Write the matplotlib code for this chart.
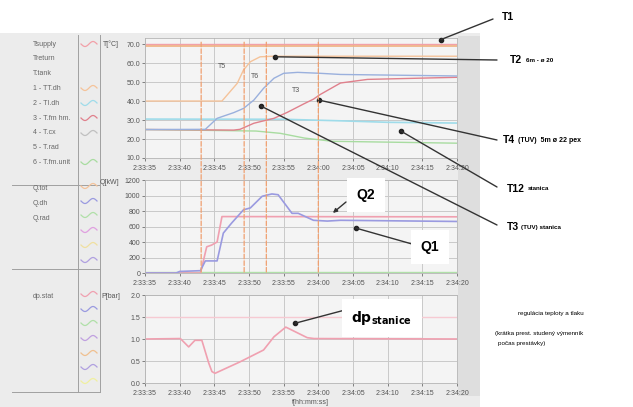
import numpy as np
import matplotlib
matplotlib.use('Agg')
import matplotlib.pyplot as plt
import matplotlib.transforms as mtransforms
from matplotlib.lines import Line2D
from matplotlib.patches import Rectangle, ConnectionPatch

plt.rcParams['font.family'] = ['Liberation Sans', 'DejaVu Sans']

W, H = 633, 407

# time axis: seconds after 2:33:35
tick_sec = [0, 5, 10, 15, 20, 25, 30, 35, 40, 45]
tick_lbl = ['2:33:35', '2:33:40', '2:33:45', '2:33:50', '2:33:55',
            '2:34:00', '2:34:05', '2:34:10', '2:34:15', '2:34:20']
switch_sec = [8.1, 14.3, 17.5, 25.0]

# top panel, T [°C]
tsup_t = [0, 45]
tsup = [70.0, 70.0]
t1_t = [0, 45]
t1 = [69.2, 69.2]
t2_t = [0, 11.1, 13.3, 14.2, 15.2, 16.6, 18.5, 45]
t2 = [40.0, 40.0, 49.3, 56.3, 60.7, 63.3, 63.6, 63.6]
t12_t = [0, 20, 28, 35, 45]
t12 = [30.5, 30.4, 29.6, 28.8, 28.4]
t3_t = [0, 8.7, 10.4, 12.8, 14.2, 15.7, 17.1, 18.6, 20.0, 22.0, 25.3, 28.2, 45]
t3 = [25.0, 25.1, 30.9, 33.9, 36.1, 40.5, 46.7, 52.0, 54.6, 55.1, 54.6, 54.0, 53.2]
t4_t = [0, 12.8, 13.7, 15.7, 18.6, 20.5, 22.9, 24.3, 25.3, 28.2, 32.1, 45]
t4 = [25.0, 24.7, 25.1, 28.3, 30.9, 34.0, 38.5, 41.0, 43.5, 49.5, 51.4, 52.5]
trad_t = [0, 16, 19.5, 23, 27, 45]
trad = [25.0, 24.2, 23.0, 20.5, 18.8, 17.8]

# middle panel, Q [kW]
q1_t = [0, 4.5, 5.0, 8.0, 8.7, 10.4, 11.3, 12.5, 14.2, 15.2, 16.9, 18.3, 19.2,
        21.2, 22.1, 24.3, 26.3, 28.2, 45]
q1 = [0, 0, 20, 30, 156, 156, 515, 645, 815, 840, 990, 1020, 1010,
      770, 770, 680, 670, 680, 665]
q2_t = [0, 8.0, 8.9, 9.6, 10.4, 11.1, 45]
q2 = [0, 0, 338, 360, 400, 728, 725]
qrad_t = [0, 45]
qrad = [10, 10]

# bottom panel, P [bar]
p_t = [0, 5.1, 6.3, 7.2, 8.2, 9.2, 9.65, 10.1, 13.7, 17.1, 18.6, 20.3, 20.7,
       23.4, 24.4, 45]
p = [1.0, 1.01, 0.82, 0.97, 0.97, 0.45, 0.26, 0.22, 0.48, 0.75, 1.05, 1.27, 1.24,
     1.03, 1.01, 1.0]
pset_t = [0, 45]
pset = [1.5, 1.5]

top_names = ['Tsupply', 'Treturn', 'T.tank', '1 - TT.dh', '2 - TI.dh',
             '3 - T.fm hm.', '4 - T.cx', '5 - T.rad', '6 - T.fm.unit']
mid_names = ['Q.tot', 'Q.dh', 'Q.rad']
bot_names = ['dp.stat']

fig = plt.figure(figsize=(W / 100, H / 100), dpi=100)
pix = mtransforms.Affine2D().scale(1.0 / W, -1.0 / H).translate(0, 1) + fig.transFigure


def box(x0, y0, x1, y1):
    return [x0 / W, 1 - y1 / H, (x1 - x0) / W, (y1 - y0) / H]


fig.add_artist(Rectangle((0, 33), 480, 374, transform=pix, facecolor='#ececec',
                         edgecolor='none', zorder=-2))
fig.add_artist(Rectangle((458, 36), 22, 360, transform=pix, facecolor='#dedede',
                         edgecolor='none', zorder=-1))

ax_t = fig.add_axes(box(145, 38, 457, 158))
ax_q = fig.add_axes(box(145, 180, 457, 273))
ax_p = fig.add_axes(box(145, 295, 457, 383))

for a in (ax_t, ax_q, ax_p):
    a.set_facecolor('#f4f4f4')
    a.set_xlim(0, 45)
    a.set_xticks(tick_sec)
    a.set_xticklabels(tick_lbl)
    a.grid(color='#c9c9c9', lw=0.7)
    a.set_axisbelow(True)
    a.tick_params(labelsize=5, colors='#555555', length=2, width=0.5, pad=1.5)
    a.tick_params(axis='x', pad=3)
    for s in a.spines.values():
        s.set_color('#b5b5b5')
        s.set_linewidth(0.6)

ax_t.set_ylim(10, 73.2)
ax_t.set_yticks([10, 20, 30, 40, 50, 60, 70])
ax_t.set_yticklabels(['10.0', '20.0', '30.0', '40.0', '50.0', '60.0', '70.0'])
ax_q.set_ylim(0, 1200)
ax_q.set_yticks([0, 200, 400, 600, 800, 1000, 1200])
ax_p.set_ylim(0, 2.0)
ax_p.set_yticks([0, 0.5, 1.0, 1.5, 2.0])
ax_p.set_yticklabels(['0.0', '0.5', '1.0', '1.5', '2.0'])

ax_t.plot(tsup_t, tsup, color='#f2a0a8', lw=1)
ax_t.plot(t1_t, t1, color='#f0b080', lw=1.2)
ax_t.plot(trad_t, trad, color='#a8dca0', lw=1)
ax_t.plot(t12_t, t12, color='#9fdcea', lw=1.2)
ax_t.plot(t2_t, t2, color='#f5c39a', lw=1)
ax_t.plot(t4_t, t4, color='#e0808c', lw=1)
ax_t.plot(t3_t, t3, color='#9ab0dd', lw=1)

ax_q.plot(qrad_t, qrad, color='#b0e0a8', lw=1)
ax_q.plot(q2_t, q2, color='#f0a0b0', lw=1.2)
ax_q.plot(q1_t, q1, color='#9a9ae0', lw=1.2)

ax_p.plot(pset_t, pset, color='#f6cad2', lw=1)
ax_p.plot(p_t, p, color='#f0a0b0', lw=1.2)

# switching moments, dashed through top and middle panel
for s in switch_sec:
    fig.add_artist(ConnectionPatch(xyA=(s, 71), coordsA=ax_t.transData,
                                   xyB=(s, 0), coordsB=ax_q.transData,
                                   color='#f0a070', lw=0.9, ls='--', zorder=0.5))

# small curve tags in top panel
for txt, x, y in [('T5', 222, 67), ('T6', 255, 77), ('T3', 296, 90)]:
    fig.text(x, y, txt, transform=pix, fontsize=5, color='#555555',
             ha='center', va='center')

# unit labels
fig.text(103, 44, 'T[°C]', transform=pix, fontsize=5, color='#555555', va='center')
fig.text(100, 183, 'Q[kW]', transform=pix, fontsize=5, color='#555555', va='center')
fig.text(101, 296, 'P[bar]', transform=pix, fontsize=5, color='#555555', va='center')
fig.text(292, 402, 't[hh:mm:ss]', transform=pix, fontsize=5, color='#555555', va='center')

# left legend panel
for i, n in enumerate(top_names):
    fig.text(33, 44 + i * 14.8, n, transform=pix, fontsize=5, color='#666666', va='center')
for i, n in enumerate(mid_names):
    fig.text(33, 189 + i * 14.5, n, transform=pix, fontsize=5, color='#666666', va='center')
fig.text(33, 296, bot_names[0], transform=pix, fontsize=5, color='#666666', va='center')

for x in (78, 100):
    fig.add_artist(Line2D([x, x], [35, 392], transform=pix, color='#a0a0a0', lw=0.7))
for y in (185, 269, 392):
    fig.add_artist(Line2D([12, 100], [y, y], transform=pix, color='#a0a0a0', lw=0.7))

sw_top = [(44, '#f2a0a8'), (88, '#f5c39a'), (103, '#9fdcea'), (118, '#e0808c'),
          (133, '#c0c0c0'), (162, '#a8dca0')]
sw_mid = [(186, '#f5c39a'), (201, '#9a9ae0'), (215, '#b0e0a8'), (230, '#e0a0e0'),
          (245, '#f0e0a0'), (260, '#b0a0e0')]
sw_bot = [(294, '#f0a0b0'), (309, '#9a9ae0'), (323, '#b0e0a8'), (338, '#c0a0e0'),
          (353, '#f0c090'), (367, '#b0a0e0'), (381, '#f0f0a0')]
wx = np.linspace(81, 97, 30)
for y, c in sw_top + sw_mid + sw_bot:
    fig.add_artist(Line2D(wx, y + 2.5 * np.sin(2 * np.pi * (wx - 81) / 16),
                          transform=pix, color=c, lw=0.9))

# annotations
ann = dict(color='#333333', lw=1.0, zorder=2)
pointers = [
    (ax_t, 42.7, 72.4, 493, 19),
    (ax_t, 18.8, 63.3, 497, 60),
    (ax_t, 25.1, 40.5, 497, 140),
    (ax_t, 36.9, 24.2, 497, 187),
    (ax_t, 16.7, 37.4, 497, 225),
    (ax_q, 30.4, 580, 412, 244),
    (ax_p, 21.7, 1.36, 345, 310),
]
for a, tx, vy, px, py in pointers:
    fig.add_artist(ConnectionPatch(xyA=(tx, vy), coordsA=a.transData,
                                   xyB=(px, py), coordsB=pix, **ann))
    a.plot(tx, vy, 'o', ms=3, color='#222222', clip_on=False, zorder=5)

fig.add_artist(ConnectionPatch(xyA=(346, 202), coordsA=pix, xyB=(27.1, 775),
                               coordsB=ax_q.transData, arrowstyle='-|>',
                               mutation_scale=6, **ann))

fig.text(502, 17, 'T1', transform=pix, fontsize=7.5, fontweight='bold', va='center')
fig.text(510, 60, 'T2', transform=pix, fontsize=7.5, fontweight='bold', va='center')
fig.text(526, 60, '6m - ø 20', transform=pix, fontsize=4.5, fontweight='bold', va='center')
fig.text(503, 140, 'T4', transform=pix, fontsize=7.5, fontweight='bold', va='center')
fig.text(518, 140, '(TUV)  5m ø 22 pex', transform=pix, fontsize=5, fontweight='bold',
         va='center')
fig.text(507, 189, 'T12', transform=pix, fontsize=7.5, fontweight='bold', va='center')
fig.text(528, 189, 'stanica', transform=pix, fontsize=4.5, fontweight='bold', va='center')
fig.text(507, 227, 'T3', transform=pix, fontsize=7.5, fontweight='bold', va='center')
fig.text(521, 227, '(TUV) stanica', transform=pix, fontsize=4.5, fontweight='bold',
         va='center')

box_w = dict(facecolor='white', edgecolor='none', pad=7)
fig.text(366, 195, 'Q2', transform=pix, fontsize=10, fontweight='bold',
         ha='center', va='center', bbox=box_w)
fig.text(430, 247, 'Q1', transform=pix, fontsize=10, fontweight='bold',
         ha='center', va='center', bbox=box_w)
fig.text(382, 318, r'$\mathbf{dp_{stanice}}$', transform=pix, fontsize=10,
         ha='center', va='center', bbox=box_w)

fig.text(551, 313, 'regulácia teploty a tlaku', transform=pix, fontsize=4.5,
         ha='center', va='center')
fig.text(495, 333, '(krátka prest. studený výmenník', transform=pix, fontsize=4.5,
         va='center')
fig.text(498, 343, 'počas prestávky)', transform=pix, fontsize=4.5, va='center')

fig.savefig('out.png', dpi=100)
